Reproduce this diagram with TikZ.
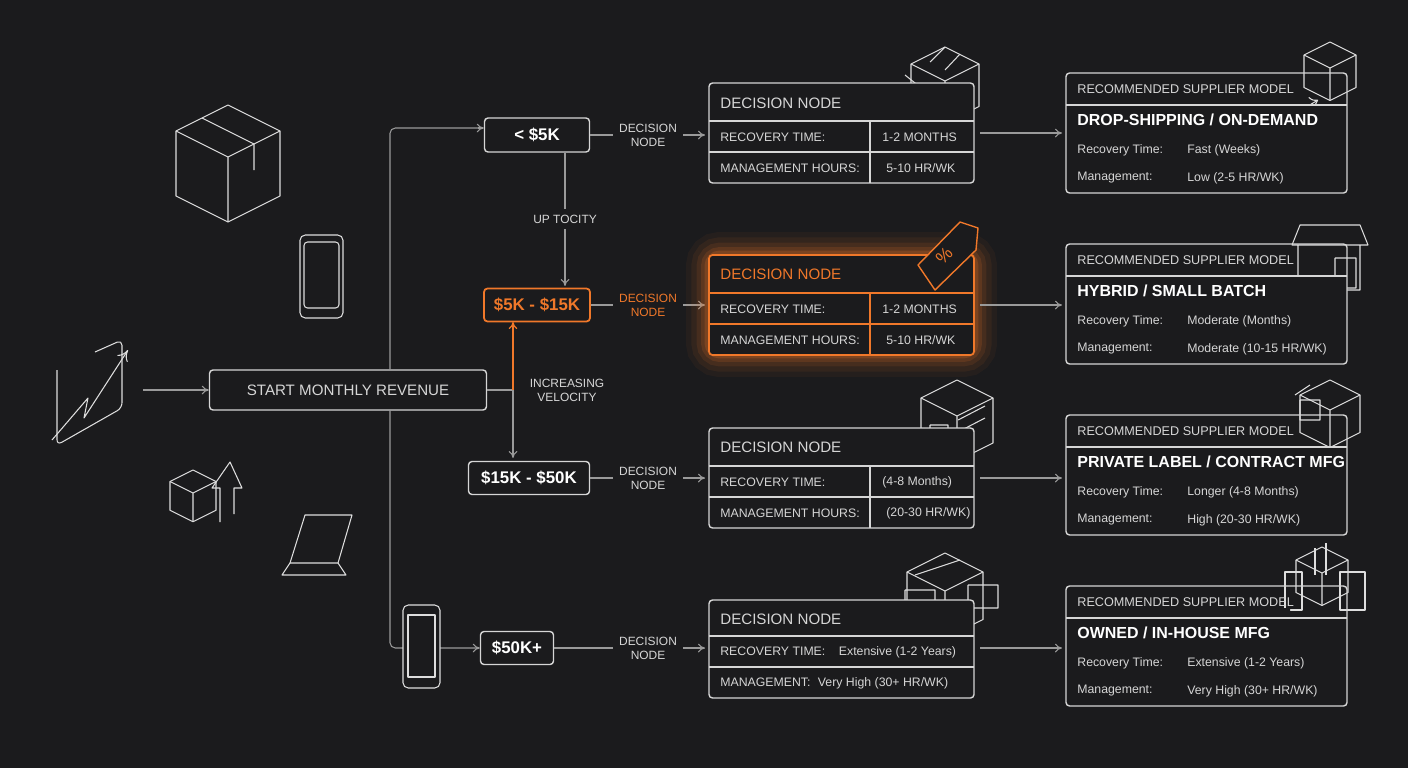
\documentclass[tikz,border=0pt]{standalone}
\usepackage{fontspec}
\setmainfont{Liberation Sans}
\usetikzlibrary{arrows.meta}
\definecolor{bgc}{HTML}{1B1B1D}
\definecolor{lnc}{HTML}{D6D6D6}
\definecolor{dimc}{HTML}{9A9A9A}
\definecolor{orc}{HTML}{F0782A}
\tikzset{
  box/.style={draw=lnc, line width=0.8pt, rounded corners=2pt},
  obox/.style={draw=orc, line width=1pt, rounded corners=2pt},
  conn/.style={draw=dimc, line width=0.6pt, -{To[length=4pt,width=5pt]}},
  lbl/.style={text=lnc, font=\fontsize{6.8}{8}\selectfont, align=center},
  rowtxt/.style={text=lnc, font=\fontsize{7}{9}\selectfont, anchor=west, inner sep=0pt},
  ttl/.style={text=lnc, font=\fontsize{8.6}{10}\selectfont, anchor=west, inner sep=0pt},
  btl/.style={text=white, font=\bfseries\fontsize{9.1}{11}\selectfont, anchor=west, inner sep=0pt},
  icon/.style={draw=lnc!80, line width=0.6pt, line join=round},
  pics/cube/.style={code={
    \filldraw[icon, fill=bgc] (0,0) -- (#1,0.5*#1) -- (#1,1.75*#1) -- (0,2.25*#1) -- (-#1,1.75*#1) -- (-#1,0.5*#1) -- cycle;
    \draw[icon] (-#1,0.5*#1) -- (0,#1) -- (#1,0.5*#1) (0,#1) -- (0,2.25*#1);
  }}
}
\begin{document}
\begin{tikzpicture}[x=0.02cm, y=-0.02cm]
\fill[bgc] (0,0) rectangle (1408,768);
\useasboundingbox (0,0) rectangle (1408,768);

% start and revenue bands
\node[box, minimum width=277*0.02cm, minimum height=40*0.02cm, text=lnc,
  font=\fontsize{8.6}{10}\selectfont] (start) at (348,390) {START MONTHLY REVENUE};
\node[box, minimum width=105*0.02cm, minimum height=34*0.02cm, text=white,
  font=\bfseries\fontsize{9.6}{11}\selectfont] (b1) at (537,135) {< \$5K};
\node[obox, minimum width=106*0.02cm, minimum height=33*0.02cm, text=orc,
  font=\bfseries\fontsize{9.6}{11}\selectfont] (b2) at (537,305) {\$5K - \$15K};
\node[box, minimum width=121*0.02cm, minimum height=33*0.02cm, text=white,
  font=\bfseries\fontsize{9.6}{11}\selectfont] (b3) at (529,478) {\$15K - \$50K};
\node[box, minimum width=73*0.02cm, minimum height=33*0.02cm, text=white,
  font=\bfseries\fontsize{9.6}{11}\selectfont] (b4) at (517,648) {\$50K+};

% trunk
\coordinate (tt) at (390,128);
\coordinate (tb) at (390,648);
\draw[dimc, line width=0.6pt, rounded corners=3pt] (390,370) -- (tt) -- (478,128);
\draw[conn] (478,128) -- (b1.west |- 0,128);
\draw[dimc, line width=0.6pt, rounded corners=3pt] (390,410) -- (tb) -- (476,648);
\draw[conn] (476,648) -- (b4.west);
\coordinate (ic) at (143,390);
\draw[conn] (ic) -- (start.west);
\draw[conn] (b1.south -| 565,0) -- node[lbl, fill=bgc]{UP TOCITY} (565,286);
\draw[dimc, line width=0.6pt] (start.east) -- (513,390);
\draw[draw=orc, line width=0.7pt, -{To[length=4pt,width=5pt]}] (513,390) -- (513,322);
\draw[conn] (513,390) -- (513,458);
\node[lbl] at (567,390) {INCREASING\\VELOCITY};

% decision labels
\foreach \n/\y/\c in {1/135/lnc, 2/305/orc, 3/478/lnc, 4/648/lnc}
  \node[lbl, text=\c] (d\n) at (648,\y) {DECISION\\NODE};
\foreach \n in {1,2,3,4} \draw[conn, draw=dimc, -] (b\n.east) -- (d\n.west);
\foreach \n in {1,2,3,4} \draw[conn] (d\n.east) -- +(22,0);

% glow
\foreach \w/\o in {26/0.05,20/0.07,14/0.1,9/0.14,5/0.2}
  \draw[orc, opacity=\o, line width=\w pt, rounded corners=6pt] (709,255) rectangle (974,354);

% decision icons (behind boxes)
\pic at (945,47) {cube=34};
\draw[icon] (945,47) -- (930,62) (960,54) -- (945,70);
\draw[icon, -{To[length=4pt]}] (905,75) -- (930,95);
\pic at (957,380) {cube=36};
\draw[icon] (930,425) rectangle (948,452) (958,420) -- (985,406) (958,432) -- (985,418);
\pic at (945,553) {cube=38};
\draw[icon] (915,575) -- (960,560) (905,590) rectangle (935,612) (968,585) rectangle (998,608);

% decision boxes
\foreach \n/\y/\ra/\rb/\st in {
  1/83/{1-2 MONTHS}/{5-10 HR/WK}/box,
  2/255/{1-2 MONTHS}/{5-10 HR/WK}/obox,
  3/428/{(4-8 Months)}/{(20-30 HR/WK)}/box}{
  \fill[bgc, rounded corners=2pt] (709,\y) rectangle (974,\y+100);
  \draw[\st] (709,\y) rectangle (974,\y+100);
  \draw[\st, rounded corners=0pt] (709,\y+38) -- (974,\y+38) (709,\y+69) -- (974,\y+69) (870,\y+38) -- (870,\y+100);
  \node[rowtxt] at (720,\y+54) {RECOVERY TIME:};
  \node[rowtxt] at (720,\y+85) {MANAGEMENT HOURS:};
  \node[rowtxt] at (882,\y+54) {\ra};
  \node[rowtxt] at (886,\y+85) {\rb};
}
\node[ttl] at (720,103) {DECISION NODE};
\node[ttl, text=orc] at (720,274) {DECISION NODE};
\node[ttl] at (720,447) {DECISION NODE};
\fill[bgc] (709,600) rectangle (974,698);
\draw[box] (709,600) rectangle (974,698);
\draw[lnc, line width=0.8pt] (709,636) -- (974,636) (709,667) -- (974,667);
\node[ttl] at (720,619) {DECISION NODE};
\node[rowtxt] at (720,652) {RECOVERY TIME:\hspace{1.1em}Extensive (1-2 Years)};
\node[rowtxt] at (720,683) {MANAGEMENT:\hspace{0.6em}Very High (30+ HR/WK)};
% tag icon
\filldraw[draw=orc, fill=bgc, line width=0.8pt, line join=round] (918,265) -- (960,222) -- (978,228) -- (976,250) -- (935,290) -- cycle;
\node[text=orc, font=\fontsize{10}{10}\selectfont, rotate=45] at (944,256) {\%};

% supplier icons (behind boxes)
\pic at (1330,42) {cube=26};
\draw[icon, -{To[length=4pt]}] (1298,112) -- (1318,100);
\draw[icon] (1300,225) -- (1360,225) -- (1368,245) -- (1292,245) -- cycle (1298,245) rectangle (1360,290) (1335,258) rectangle (1356,288);
\pic at (1330,380) {cube=30};
\draw[icon] (1295,395) -- (1310,385) (1300,400) rectangle (1320,420);
\pic at (1322,547) {cube=26};
\draw[icon] (1285,572) rectangle (1302,610) (1340,572) rectangle (1365,610) (1315,548) -- (1315,575) (1326,543) -- (1326,575);

% to supplier models
\foreach \y in {133,305,478,648} \draw[conn] (980,\y) -- (1062,\y);
\foreach \y/\t/\ra/\rb in {
  73/{DROP-SHIPPING / ON-DEMAND}/{Fast (Weeks)}/{Low (2-5 HR/WK)},
  244/{HYBRID / SMALL BATCH}/{Moderate (Months)}/{Moderate (10-15 HR/WK)},
  415/{PRIVATE LABEL / CONTRACT MFG}/{Longer (4-8 Months)}/{High (20-30 HR/WK)},
  586/{OWNED / IN-HOUSE MFG}/{Extensive (1-2 Years)}/{Very High (30+ HR/WK)}}{
  \fill[bgc] (1066,\y+22) rectangle (1290,\y+120) (1066,\y+32) rectangle (1347,\y+120);
  \draw[box] (1066,\y) rectangle (1347,\y+120);
  \draw[lnc, line width=0.8pt] (1066,\y+32) -- (1347,\y+32);
  \node[rowtxt, font=\fontsize{7.2}{9}\selectfont] at (1077,\y+16) {RECOMMENDED SUPPLIER MODEL};
  \node[btl] at (1077,\y+47) {\t};
  \node[rowtxt] at (1077,\y+77) {Recovery Time:};
  \node[rowtxt] at (1187,\y+77) {\ra};
  \node[rowtxt] at (1077,\y+105) {Management:};
  \node[rowtxt] at (1187,\y+105) {\rb};
}

% left icons
\pic at (228,105) {cube=52};
\draw[icon] (202,118) -- (254,144) -- (254,170) (228,131) -- (254,144);
\draw[icon, rounded corners=3pt] (300,235) rectangle (343,318);
\draw[icon, rounded corners=2pt] (304,242) rectangle (339,308);
\draw[icon, rounded corners=3pt] (57,370) -- (57,445) -- (122,408) -- (122,340) -- (95,352);
\draw[icon, -{To[length=6pt,width=7pt]}] (52,440) -- (88,398) -- (84,418) -- (128,350);
\pic at (193,470) {cube=23};
\draw[icon] (220,522) -- (220,488) -- (212,488) -- (230,462) -- (242,488) -- (234,488) -- (234,514);
\draw[icon] (282,575) -- (346,575) -- (338,563) -- (290,563) -- cycle;
\draw[icon] (290,563) -- (305,515) -- (352,515) -- (338,563);
\filldraw[icon, fill=bgc, rounded corners=3pt] (403,605) rectangle (440,688);
\draw[icon] (408,615) rectangle (435,677);
\end{tikzpicture}
\end{document}
